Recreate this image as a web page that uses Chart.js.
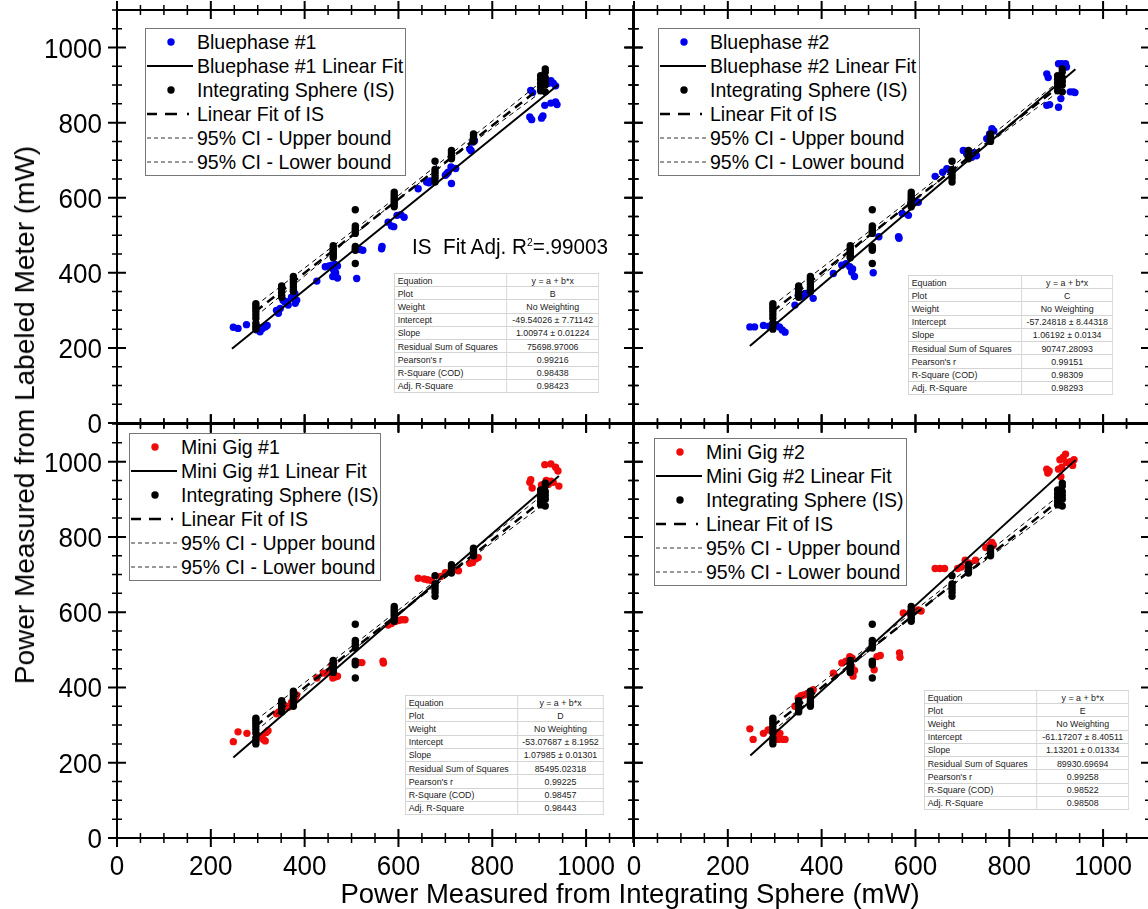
<!DOCTYPE html>
<html>
  <head>
    <title>Power Meter Comparison</title>
    <script src="https://cdn.jsdelivr.net/npm/chart.js"></script>
    <style>
      body { margin: 0; background: #fff; }
      #fig {
        position: relative; width: 1148px; height: 909px; overflow: hidden;
        background: #fff; font-family: "Liberation Sans", Arial, sans-serif; color: #000;
      }
      #fig canvas { position: absolute; }
      .legend {
        position: absolute; border: 1px solid #777; background: #fff;
        box-sizing: border-box; padding: 1px 0 0 1px; font-size: 21px;
      }
      .legend .row { height: 24px; display: flex; align-items: center; white-space: nowrap; }
      .legend svg { width: 46px; height: 24px; margin-right: 4px; flex: none; }
      .legend span { display: inline-block; transform: scaleX(0.93); transform-origin: 0 50%; }
      .stats {
        position: absolute; border-collapse: collapse; table-layout: fixed;
        font-size: 9.6px; background: #fff; border: 1px solid #888; height: 120px;
        transform: scaleX(0.92); transform-origin: 0 0;
      }
      .stats td { border: 1px solid #d4d4d4; padding: 0 3px; line-height: 11px; color: #222; white-space: nowrap; overflow: hidden; }
      .stats td:nth-child(2) { text-align: center; }
      .title { position: absolute; font-size: 27.5px; white-space: nowrap; }
    </style>
  </head>
  <body>
    <div id="fig">
      <canvas id="tl" width="645" height="440" style="left:0px;top:0px"></canvas>
      <canvas id="tr" width="560" height="440" style="left:600px;top:0px"></canvas>
      <canvas id="bl" width="645" height="499" style="left:0px;top:410px"></canvas>
      <canvas id="br" width="560" height="499" style="left:600px;top:410px"></canvas>

      <div class="title" style="left:25px;top:415px;font-size:28px;transform:translate(-50%,-50%) rotate(-90deg)">Power Measured from Labeled Meter (mW)</div>
      <div class="title" style="left:630px;top:894px;transform:translate(-50%,-50%)">Power Measured from Integrating Sphere (mW)</div>
      <div class="title" style="left:412px;top:247px;transform:translateY(-50%) scaleX(0.94);transform-origin:0 50%;font-size:22px">IS&nbsp; Fit Adj. R<sup style="font-size:11px">2</sup>=.99003</div>
    </div>

    <script type="text/javascript">
      // Integrating sphere readings (same in all four panels)
      const isX = [
        296, 296, 296, 296, 296, 296, 296, 296, 296,
        351, 351, 351, 351, 351, 351,
        376, 376, 376, 376, 376, 376, 376,
        461, 461, 461, 461, 461, 461, 461,
        508, 508, 508, 508, 508, 508, 508, 508, 508,
        591, 591, 591, 591, 591, 591, 591,
        678, 678, 678, 678, 678, 678,
        713, 713, 713, 713, 713,
        760, 760, 760, 760, 760,
        903, 903, 903, 903, 903,
        913, 913, 913, 913, 913, 913
      ];
      const isY = [
        318, 312, 305, 297, 288, 279, 266, 257, 250,
        365, 360, 355, 348, 340, 335,
        390, 383, 377, 370, 362, 355, 350,
        472, 465, 460, 455, 450, 445, 440,
        568, 525, 518, 512, 505, 470, 465, 460, 425,
        615, 608, 602, 596, 590, 583, 576,
        697, 675, 668, 660, 652, 642,
        726, 720, 714, 708, 704,
        770, 765, 760, 755, 750,
        925, 915, 905, 895, 885,
        943, 935, 920, 910, 900, 882
      ];
      const isFitX = [295, 912];
      const isFitY = [297, 902];
      const ciX = [295, 600, 912];
      const ciUpY = [312, 606, 916];
      const ciLoY = [283, 596, 889];

      // Bluephase #1
      const bp1X = [
        248, 258, 276, 298, 300, 305, 310, 316, 320,
        340, 344, 348, 354, 358, 362, 365, 372, 379, 383, 380,
        426, 444, 452, 458, 465, 470, 462, 460, 470, 466,
        511, 518, 524, 564, 565,
        578, 585, 590, 597, 605, 612,
        642, 660, 665, 668,
        700, 703, 706, 712, 713, 722,
        752, 755, 758, 762,
        880, 884, 905, 908, 912, 925, 935, 938,
        882, 886, 920, 925, 930, 935
      ];
      const bp1Y = [
        255, 252, 262, 248, 255, 243, 252, 256, 260,
        300, 292, 305, 327, 322, 323, 314, 335, 345, 327, 319,
        378, 416, 418, 420, 422, 418, 407, 390, 386, 400,
        385, 462, 460, 464, 470,
        535, 525, 523, 553, 555, 548,
        624, 642, 640, 645,
        660, 664, 668, 682, 638, 678,
        730, 725, 748, 752,
        815, 808, 812, 818, 846, 852, 855, 848,
        886, 880, 905, 912, 905, 898
      ];
      const bp1FitX = [245, 940];
      const bp1FitY = [198, 900];

      // Bluephase #2
      const bp2X = [
        247, 257, 276, 288, 302, 310, 316, 322,
        343, 350, 358, 365, 372, 382, 376,
        425, 443, 452, 460, 464, 470, 466,
        510, 522, 564, 565,
        572, 585, 590, 600, 606,
        642, 658, 667, 674,
        702, 709, 715, 720, 726, 730,
        752, 758, 763, 767,
        880, 883, 905, 912, 920, 922,
        930, 937, 940, 880, 886, 905, 910
      ];
      const bp2Y = [
        256, 256, 260, 258, 262, 256, 248, 242,
        314, 340, 336, 345, 346, 332, 350,
        398, 420, 424, 416, 402, 390, 410,
        400, 496, 496, 492,
        558, 553, 585, 590, 588,
        657, 668, 677, 672,
        726, 717, 722, 708, 720, 712,
        757, 770, 784, 778,
        930, 920, 957, 957, 957, 948,
        882, 882, 880, 846, 848, 841, 864
      ];
      const bp2FitX = [247, 941];
      const bp2FitY = [205, 942];

      // Mini Gig #1
      const mg1X = [
        248, 258, 277, 300, 308, 312, 316, 318, 322,
        340, 345, 352, 360, 366, 372, 380, 383,
        426, 440, 450, 458, 462, 465, 470, 460,
        515, 522, 567, 568,
        578, 585, 593, 600, 607, 614,
        642, 655, 662, 670, 690, 700, 718, 728,
        752, 758, 765, 770,
        880, 885, 882, 905, 912, 925, 935, 940, 942, 915, 925, 930, 920
      ];
      const mg1Y = [
        256, 282, 278, 272, 268, 262, 258, 280, 285,
        330, 335, 345, 350, 348, 360, 370, 380,
        425, 438, 440, 460, 465, 428, 430, 425,
        466, 466, 470, 465,
        566, 570, 575, 578, 580, 580,
        690, 688, 686, 684, 695, 705, 712, 710,
        730, 732, 742, 745,
        945, 930, 952, 938, 992, 994, 985, 975, 935, 950, 948, 945, 940
      ];
      const mg1FitX = [248, 942];
      const mg1FitY = [214, 962];

      // Mini Gig #2
      const mg2X = [
        247, 254, 276, 286, 300, 305, 311, 308, 318, 322,
        343, 350, 356, 362, 370, 375, 382,
        425, 443, 452, 460, 465, 464, 467, 470,
        512, 518, 525, 566, 567,
        574, 588, 596, 606, 612,
        642, 652, 662, 690, 698, 706, 715, 728,
        750, 758, 763, 766,
        880, 882, 885, 905, 908, 915, 920, 922, 930, 938, 935, 910, 912
      ];
      const mg2Y = [
        290, 262, 278, 287, 275, 280, 278, 262, 262, 262,
        350, 372, 378, 380, 384, 385, 394,
        438, 465, 470, 482, 478, 456, 430, 445,
        447, 482, 485, 492, 480,
        598, 598, 604, 606, 603,
        716, 716, 716, 716, 720, 738, 730, 738,
        772, 778, 785, 778,
        980, 970, 975, 980, 1005, 1012, 1020, 998, 1000, 1005, 990, 960, 985
      ];
      const mg2FitX = [248, 941];
      const mg2FitY = [219, 1004];

      // fit report tables
      const statLabels = ["Equation", "Plot", "Weight", "Intercept", "Slope",
        "Residual Sum of Squares", "Pearson's r", "R-Square (COD)", "Adj. R-Square"];
      const bp1Stats = ["y = a + b*x", "B", "No Weighting", "-49.54026 ± 7.71142", "1.00974 ± 0.01224",
        "75698.97006", "0.99216", "0.98438", "0.98423"];
      const bp2Stats = ["y = a + b*x", "C", "No Weighting", "-57.24818 ± 8.44318", "1.06192 ± 0.0134",
        "90747.28093", "0.99151", "0.98309", "0.98293"];
      const mg1Stats = ["y = a + b*x", "D", "No Weighting", "-53.07687 ± 8.1952", "1.07985 ± 0.01301",
        "85495.02318", "0.99225", "0.98457", "0.98443"];
      const mg2Stats = ["y = a + b*x", "E", "No Weighting", "-61.17207 ± 8.40511", "1.13201 ± 0.01334",
        "89930.69694", "0.99258", "0.98522", "0.98508"];

      const FONT = '"Liberation Sans", Arial, sans-serif';
      const BLUE = "rgb(0,0,240)";
      const RED = "rgb(240,10,10)";

      function pts(xs, ys) {
        return xs.map((x, i) => ({ x: x, y: ys[i] }));
      }

      // slightly condensed label, like the original export
      function label(c, text, x, y) {
        c.save();
        c.translate(x, y);
        c.scale(0.93, 1);
        c.fillText(text, 0, 0);
        c.restore();
      }

      // Origin style frame: box round the plot, ticks crossing every side,
      // tick labels placed from the chart's own scales
      const frameTicks = {
        id: "frameTicks",
        afterDraw(chart, args, opts) {
          const a = chart.chartArea;
          const sx = chart.scales.x;
          const sy = chart.scales.y;
          const c = chart.ctx;
          c.save();
          c.strokeStyle = "#000";
          c.lineWidth = 2;
          c.strokeRect(a.left, a.top, a.right - a.left, a.bottom - a.top);
          sx.ticks.forEach((t) => {
            const major = t.value % 200 === 0;
            const len = major ? 9 : 5;
            const px = sx.getPixelForValue(t.value);
            c.lineWidth = major ? 2 : 1.5;
            c.beginPath();
            c.moveTo(px, a.bottom - len); c.lineTo(px, a.bottom + len);
            c.moveTo(px, a.top - len); c.lineTo(px, a.top + len);
            c.stroke();
          });
          sy.ticks.forEach((t) => {
            const major = t.value % 200 === 0;
            const len = major ? 9 : 5;
            const py = sy.getPixelForValue(t.value);
            c.lineWidth = major ? 2 : 1.5;
            c.beginPath();
            c.moveTo(a.left - len, py); c.lineTo(a.left + len, py);
            c.moveTo(a.right - len, py); c.lineTo(a.right + len, py);
            c.stroke();
          });

          c.fillStyle = "#000";
          c.font = "28px " + FONT;
          c.textBaseline = "alphabetic";
          if (opts.yLabels) {
            c.textAlign = "right";
            sy.ticks.forEach((t) => {
              if (t.value % 200 !== 0) return;
              label(c, String(t.value), a.left - 15, sy.getPixelForValue(t.value) + 10);
            });
          }
          if (opts.xLabels) {
            c.textAlign = "center";
            sx.ticks.forEach((t) => {
              if (t.value % 200 !== 0) return;
              label(c, String(t.value), sx.getPixelForValue(t.value), a.bottom + 37);
            });
          }
          c.restore();
        }
      };

      function axis(pos, size) {
        return {
          type: "linear",
          position: pos,
          min: 0,
          max: 1100,
          grid: { display: false },
          border: { display: false },
          ticks: { display: false, stepSize: 50, autoSkip: false },
          afterFit: function (scale) {
            if (pos === "left") scale.width = size;
            else scale.height = size;
          }
        };
      }

      function makePanel(id, p) {
        return new Chart(document.getElementById(id), {
          type: "scatter",
          data: {
            datasets: [
              { label: p.name, data: pts(p.xs, p.ys), backgroundColor: p.color,
                pointRadius: 3.7, pointBorderWidth: 0, order: 6 },
              { label: p.name + " Linear Fit", data: pts(p.fitX, p.fitY), showLine: true,
                borderColor: "#000", borderWidth: 2, pointRadius: 0, order: 5 },
              { label: "Integrating Sphere (IS)", data: pts(isX, isY), backgroundColor: "#000",
                pointRadius: 3.7, pointBorderWidth: 0, order: 4 },
              { label: "Linear Fit of IS", data: pts(isFitX, isFitY), showLine: true,
                borderColor: "#000", borderWidth: 2.5, borderDash: [9, 6], pointRadius: 0, order: 3 },
              { label: "95% CI - Upper bound", data: pts(ciX, ciUpY), showLine: true, tension: 0.3,
                borderColor: "#000", borderWidth: 1, borderDash: [5, 4], pointRadius: 0, order: 2 },
              { label: "95% CI - Lower bound", data: pts(ciX, ciLoY), showLine: true, tension: 0.3,
                borderColor: "#000", borderWidth: 1, borderDash: [5, 4], pointRadius: 0, order: 1 }
            ]
          },
          options: {
            responsive: false,
            animation: false,
            events: [],
            layout: { padding: p.padding },
            plugins: {
              legend: { display: false },
              tooltip: { enabled: false },
              frameTicks: { xLabels: p.xLabels, yLabels: p.yLabels }
            },
            scales: {
              x: axis("bottom", p.xSize),
              y: axis("left", p.ySize)
            }
          },
          plugins: [frameTicks]
        });
      }

      makePanel("tl", { name: "Bluephase #1", color: BLUE, xs: bp1X, ys: bp1Y, fitX: bp1FitX, fitY: bp1FitY,
        xLabels: false, yLabels: true, xSize: 17, ySize: 117, padding: { left: 0, top: 10, right: 12, bottom: 0 } });
      makePanel("tr", { name: "Bluephase #2", color: BLUE, xs: bp2X, ys: bp2Y, fitX: bp2FitX, fitY: bp2FitY,
        xLabels: false, yLabels: false, xSize: 17, ySize: 34, padding: { left: 0, top: 10, right: 10, bottom: 0 } });
      makePanel("bl", { name: "Mini Gig #1", color: RED, xs: mg1X, ys: mg1Y, fitX: mg1FitX, fitY: mg1FitY,
        xLabels: true, yLabels: true, xSize: 71, ySize: 117, padding: { left: 0, top: 14, right: 12, bottom: 0 } });
      makePanel("br", { name: "Mini Gig #2", color: RED, xs: mg2X, ys: mg2Y, fitX: mg2FitX, fitY: mg2FitY,
        xLabels: true, yLabels: false, xSize: 71, ySize: 34, padding: { left: 0, top: 14, right: 10, bottom: 0 } });

      // legends
      const fig = document.getElementById("fig");

      function sample(kind, color) {
        if (kind === "dot") return '<circle cx="24" cy="12" r="3.7" fill="' + color + '"/>';
        if (kind === "solid") return '<line x1="0" y1="12" x2="46" y2="12" stroke="#000" stroke-width="2"/>';
        if (kind === "fit") return '<line x1="0" y1="12" x2="46" y2="12" stroke="#000" stroke-width="2.6" stroke-dasharray="10 8 12 10 2 10"/>';
        return '<line x1="0" y1="12" x2="46" y2="12" stroke="#333" stroke-width="1" stroke-dasharray="4 3"/>';
      }

      function makeLegend(left, top, width, name, color) {
        const rows = [
          ["dot", color, name],
          ["solid", "#000", name + " Linear Fit"],
          ["dot", "#000", "Integrating Sphere (IS)"],
          ["fit", "#000", "Linear Fit of IS"],
          ["ci", "#333", "95% CI - Upper bound"],
          ["ci", "#333", "95% CI - Lower bound"]
        ];
        const box = document.createElement("div");
        box.className = "legend";
        box.style.left = left + "px";
        box.style.top = top + "px";
        box.style.width = width + "px";
        box.style.height = "148px";
        box.innerHTML = rows.map((r) =>
          '<div class="row"><svg viewBox="0 0 46 24">' + sample(r[0], r[1]) + "</svg><span>" + r[2] + "</span></div>"
        ).join("");
        fig.appendChild(box);
      }

      makeLegend(145, 28, 261, "Bluephase #1", BLUE);
      makeLegend(658, 28, 262, "Bluephase #2", BLUE);
      makeLegend(129, 433, 252, "Mini Gig #1", RED);
      makeLegend(654, 438, 253, "Mini Gig #2", RED);

      // tables are laid out wider, then squeezed to the reference width
      function makeStats(left, top, w1, w2, values) {
        const k = 0.92;
        const c1 = Math.round(w1 / k);
        const c2 = Math.round(w2 / k);
        const t = document.createElement("table");
        t.className = "stats";
        t.style.left = left + "px";
        t.style.top = top + "px";
        t.style.width = c1 + c2 + "px";
        let html = '<colgroup><col style="width:' + c1 + 'px"><col style="width:' + c2 + 'px"></colgroup>';
        statLabels.forEach((lab, i) => {
          html += "<tr><td>" + lab + "</td><td>" + values[i] + "</td></tr>";
        });
        t.innerHTML = html;
        fig.appendChild(t);
      }

      makeStats(394, 273, 112, 92, bp1Stats);
      makeStats(908, 275, 113, 91, bp2Stats);
      makeStats(405, 695, 112, 86, mg1Stats);
      makeStats(924, 690, 112, 92, mg2Stats);
    </script>
  </body>
</html>
